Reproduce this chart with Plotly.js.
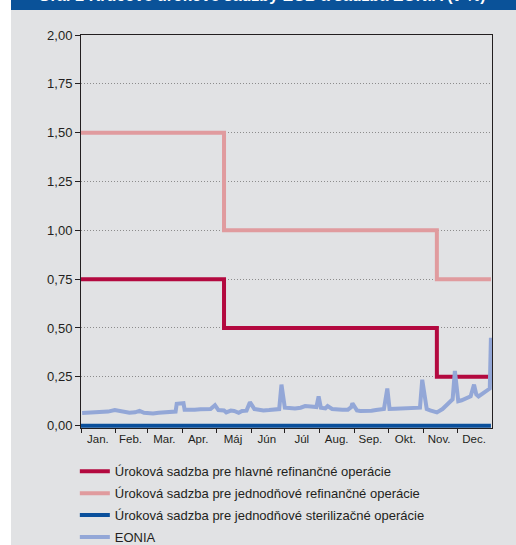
<!DOCTYPE html>
<html>
<head>
<meta charset="utf-8">
<script src="https://cdn.plot.ly/plotly-3.0.1.min.js"></script>
<style>
html,body{margin:0;padding:0;background:#ffffff;}
#chart{position:absolute;left:11px;top:0;width:505px;height:545px;}
</style>
</head>
<body>
<div id="chart"></div>
<script>
// ---- data ----
const titleText = "Graf 2 Kľúčové úrokové sadzby ECB a sadzba EONIA (v %)";
const seriesNames = [
  "Úroková sadzba pre hlavné refinančné operácie",
  "Úroková sadzba pre jednodňové refinančné operácie",
  "Úroková sadzba pre jednodňové sterilizačné operácie",
  "EONIA"
];
const rateDates = ["2013-01-01", "2013-05-08", "2013-11-13", "2013-12-31"];
const mroRate = [0.75, 0.50, 0.25, 0.25];
const marginalRate = [1.50, 1.00, 0.75, 0.75];
const depositRate = [0.00, 0.00, 0.00, 0.00];

const eoniaDates = [
  "2013-01-02","2013-01-07","2013-01-11","2013-01-16","2013-01-21","2013-01-25","2013-01-31",
  "2013-02-04","2013-02-08","2013-02-13","2013-02-18","2013-02-22","2013-02-26",
  "2013-03-01","2013-03-06","2013-03-11","2013-03-15","2013-03-20","2013-03-26","2013-03-27","2013-04-01","2013-04-02",
  "2013-04-03","2013-04-08","2013-04-12","2013-04-17","2013-04-22","2013-04-26","2013-04-30",
  "2013-05-03","2013-05-08","2013-05-10","2013-05-14","2013-05-17","2013-05-21","2013-05-24","2013-05-28","2013-05-31",
  "2013-06-04","2013-06-07","2013-06-12","2013-06-17","2013-06-21","2013-06-26","2013-06-28",
  "2013-07-01","2013-07-05","2013-07-10","2013-07-15","2013-07-19","2013-07-24","2013-07-29","2013-07-31",
  "2013-08-02","2013-08-06","2013-08-08","2013-08-12","2013-08-16","2013-08-21","2013-08-26","2013-08-29","2013-08-30",
  "2013-09-03","2013-09-06","2013-09-11","2013-09-16","2013-09-20","2013-09-25","2013-09-27","2013-09-30",
  "2013-10-02","2013-10-07","2013-10-11","2013-10-16","2013-10-21","2013-10-25","2013-10-29","2013-10-31",
  "2013-11-04","2013-11-07","2013-11-11","2013-11-13","2013-11-18","2013-11-22","2013-11-26","2013-11-27","2013-11-29",
  "2013-12-02","2013-12-05","2013-12-10","2013-12-13","2013-12-16","2013-12-18","2013-12-20","2013-12-24","2013-12-27","2013-12-30","2013-12-31"
];
const eoniaRate = [
  0.065,0.066,0.067,0.068,0.068,0.072,0.080,
  0.076,0.068,0.066,0.068,0.076,0.066,
  0.065,0.062,0.066,0.068,0.066,0.072,0.112,0.118,0.115,
  0.082,0.080,0.082,0.084,0.082,0.085,0.105,
  0.080,0.078,0.068,0.077,0.075,0.066,0.075,0.077,0.120,
  0.085,0.082,0.078,0.080,0.082,0.085,0.210,
  0.092,0.090,0.088,0.092,0.100,0.098,0.095,0.150,
  0.092,0.088,0.100,0.085,0.082,0.082,0.082,0.095,0.115,
  0.078,0.075,0.074,0.076,0.080,0.082,0.085,0.190,
  0.085,0.086,0.088,0.087,0.090,0.092,0.092,0.235,
  0.085,0.078,0.070,0.068,0.085,0.110,0.130,0.135,0.280,
  0.125,0.130,0.145,0.150,0.210,0.160,0.150,0.165,0.175,0.190,0.450
];

const monthMid = ["2013-01-16","2013-02-14","2013-03-16","2013-04-15","2013-05-16","2013-06-15",
                  "2013-07-16","2013-08-16","2013-09-15","2013-10-16","2013-11-15","2013-12-16"];
const monthLabels = ["Jan.","Feb.","Mar.","Apr.","Máj","Jún","Júl","Aug.","Sep.","Okt.","Nov.","Dec."];
const yTicks = [0, 0.25, 0.5, 0.75, 1.0, 1.25, 1.5, 1.75, 2.0];

// ---- chart ----
const FONT = "Liberation Sans, Arial, sans-serif";
const colors = ["#b3093f", "#e09b9e", "#0a4f9b", "#93a7d7"];

const traces = [
  {x: rateDates, y: mroRate, name: seriesNames[0], legendgroup: "a", mode: "lines",
   line: {color: colors[0], width: 4, shape: "hv"}},
  {x: rateDates, y: marginalRate, name: seriesNames[1], legendgroup: "b", mode: "lines",
   line: {color: colors[1], width: 4, shape: "hv"}},
  {x: rateDates, y: depositRate, name: seriesNames[2], legendgroup: "c", mode: "lines",
   line: {color: colors[2], width: 4, shape: "hv"}},
  {x: eoniaDates, y: eoniaRate, name: seriesNames[3], legendgroup: "d", mode: "lines",
   line: {color: colors[3], width: 4}}
];

const layout = {
  width: 505, height: 545,
  margin: {l: 70, r: 24, t: 35, b: 117, pad: 0, autoexpand: false},
  paper_bgcolor: "#e1e2e4",
  plot_bgcolor: "#e1e2e4",
  separators: ", ",
  font: {family: FONT, size: 12, color: "#231f20"},
  showlegend: true,
  legend: {
    x: -0.015, y: -0.072, xanchor: "left", yanchor: "top",
    bgcolor: "rgba(0,0,0,0)", font: {family: FONT, size: 13, color: "#231f20"},
    tracegroupgap: 2, itemwidth: 30, traceorder: "grouped"
  },
  xaxis: {
    type: "date",
    range: ["2013-01-01", "2013-12-31 23:00"],
    showgrid: false, zeroline: false,
    showline: true, mirror: true, linecolor: "#231f20", linewidth: 1,
    tickmode: "array", tickvals: monthMid, ticktext: monthLabels,
    ticks: "", tickfont: {family: FONT, size: 11.5, color: "#231f20"},
    minor: {ticks: "outside", ticklen: 4, tickwidth: 1, tickcolor: "#231f20",
            dtick: "M1", tick0: "2013-01-01", showgrid: false},
    fixedrange: true
  },
  yaxis: {
    range: [-0.012, 2.0],
    tickmode: "array", tickvals: yTicks, tickformat: ".2f",
    showgrid: true, gridcolor: "#8c8c8c", griddash: "1px,2px", gridwidth: 1,
    zeroline: false,
    showline: true, mirror: true, linecolor: "#231f20", linewidth: 1,
    ticks: "outside", ticklen: 5, tickcolor: "#231f20",
    tickfont: {family: FONT, size: 13, color: "#231f20"},
    fixedrange: true
  },
  shapes: [
    {type: "rect", xref: "paper", yref: "paper", x0: -0.5, x1: 1.5, y0: 1.0636, y1: 1.3,
     fillcolor: "#0a5299", line: {width: 0}, layer: "below"}
  ],
  annotations: [
    {text: "<b>" + titleText + "</b>", xref: "paper", yref: "paper", x: -0.11, y: 1.100,
     xanchor: "left", yanchor: "middle", showarrow: false,
     font: {family: FONT, size: 16, color: "#ffffff"}}
  ]
};

Plotly.newPlot("chart", traces, layout, {displayModeBar: false, staticPlot: true});
</script>
</body>
</html>
